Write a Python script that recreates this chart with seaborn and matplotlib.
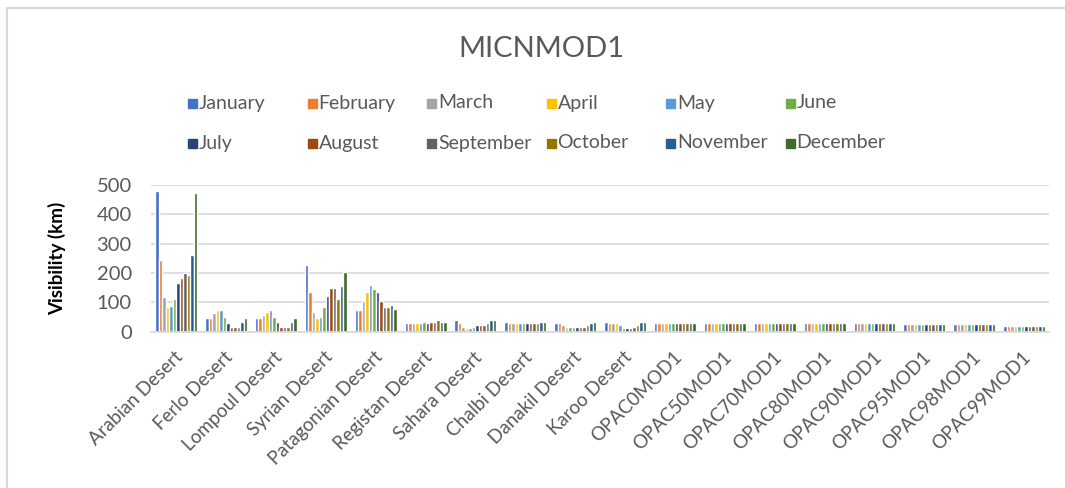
import pandas as pd
import matplotlib.pyplot as plt
import matplotlib.patches as mpatches
import matplotlib.transforms as mtransforms
from matplotlib.lines import Line2D
import seaborn as sns

# categorias e meses
sites = ['Arabian Desert', 'Ferlo Desert', 'Lompoul Desert', 'Syrian Desert', 'Patagonian Desert',
         'Registan Desert', 'Sahara Desert', 'Chalbi Desert', 'Danakil Desert', 'Karoo Desert',
         'OPAC0MOD1', 'OPAC50MOD1', 'OPAC70MOD1', 'OPAC80MOD1', 'OPAC90MOD1',
         'OPAC95MOD1', 'OPAC98MOD1', 'OPAC99MOD1']
months = ['January', 'February', 'March', 'April', 'May', 'June',
          'July', 'August', 'September', 'October', 'November', 'December']
cores = ['#4472C4', '#ED7D31', '#A5A5A5', '#FFC000', '#5B9BD5', '#70AD47',
         '#264478', '#9E480E', '#636363', '#997300', '#255E91', '#43682B']

# visibilidade (km), uma lista por local, jan..dez
arabian = [481, 245, 118, 86, 89, 112, 167, 184, 200, 194, 260, 471]
ferlo = [46, 46, 63, 73, 73, 51, 29, 18, 18, 18, 34, 46]
lompoul = [46, 46, 57, 67, 73, 51, 34, 18, 18, 18, 34, 46]
syrian = [227, 134, 67, 46, 51, 84, 122, 150, 150, 112, 156, 205]
patagonian = [73, 73, 106, 134, 161, 145, 134, 106, 84, 84, 90, 79]
registan = [30, 30, 30, 30, 30, 34, 30, 34, 34, 40, 34, 34]
sahara = [40, 30, 18, 13, 13, 18, 24, 24, 24, 30, 40, 40]
chalbi = [34, 30, 30, 30, 30, 30, 30, 30, 30, 30, 34, 34]
danakil = [30, 30, 24, 18, 18, 18, 18, 18, 18, 24, 30, 34]
karoo = [34, 30, 30, 30, 24, 13, 13, 13, 18, 24, 34, 34]
opac0 = [30] * 12
opac50 = [30] * 12
opac70 = [30] * 12
opac80 = [30] * 12
opac90 = [30] * 12
opac95 = [25] * 12
opac98 = [25] * 12
opac99 = [20] * 12

valores = [arabian, ferlo, lompoul, syrian, patagonian, registan, sahara, chalbi,
           danakil, karoo, opac0, opac50, opac70, opac80, opac90, opac95, opac98, opac99]

linhas = []
for s, vals in zip(sites, valores):
    for m, v in zip(months, vals):
        linhas.append({'site': s, 'month': m, 'vis': v})
df = pd.DataFrame(linhas)

sns.set_theme(style='white')
plt.rcParams['font.family'] = ['Lato', 'DejaVu Sans']

fig = plt.figure(figsize=(10.65, 4.88), dpi=100)
ax = fig.add_axes([0.142, 0.320, 0.843, 0.301])

sns.barplot(data=df, x='site', y='vis', hue='month', hue_order=months, order=sites,
            palette=cores, width=0.84, ax=ax, legend=False, saturation=1)

ax.set_ylim(0, 500)
ax.set_yticks(range(0, 501, 100))
ax.yaxis.grid(True, color='#D9D9D9', linewidth=1.2)
ax.set_axisbelow(True)
for lado in ['top', 'right', 'left']:
    ax.spines[lado].set_visible(False)
ax.spines['bottom'].set_color('#D9D9D9')
ax.tick_params(axis='y', labelsize=14.5, colors='#595959', length=0, pad=14)
ax.tick_params(axis='x', labelsize=13.5, colors='#595959', length=0, pad=12)
desloc = mtransforms.ScaledTranslation(-2 / 100, 0, fig.dpi_scale_trans)
for lbl in ax.get_xticklabels():
    lbl.set_rotation(45)
    lbl.set_ha('right')
    lbl.set_rotation_mode('anchor')
    lbl.set_transform(lbl.get_transform() + desloc)
ax.set_xlabel('')
ax.set_ylabel('Visibility (km)', fontsize=13.5, fontweight='bold', color='black', labelpad=22)
ax.set_xlim(-0.5, len(sites) - 0.5)

fig.text(0.508, 0.900, 'MICNMOD1', ha='center', va='center', fontsize=21, color='#595959')

# legenda manual, colunas com espaco fixo
x0, dx = 188 / 1065, 119.5 / 1065
for i, (m, c) in enumerate(zip(months, cores)):
    lin, col = divmod(i, 6)
    xs = x0 + col * dx
    ys = 1 - (103 + 40 * lin) / 488
    fig.patches.append(mpatches.Rectangle((xs, ys - 4.5 / 488), 9 / 1065, 9 / 488,
                                          transform=fig.transFigure, color=c))
    fig.text(xs + 11 / 1065, ys, m, ha='left', va='center', fontsize=14, color='#595959')

# moldura (so topo e esquerda aparecem)
topo = 1 - 8 / 488
esq = 7 / 1065
fig.add_artist(Line2D([esq, 1.0], [topo, topo], transform=fig.transFigure, color='#D9D9D9', lw=1.5))
fig.add_artist(Line2D([esq, esq], [0.0, topo], transform=fig.transFigure, color='#D9D9D9', lw=1.5))

plt.savefig('out.png', dpi=100)
